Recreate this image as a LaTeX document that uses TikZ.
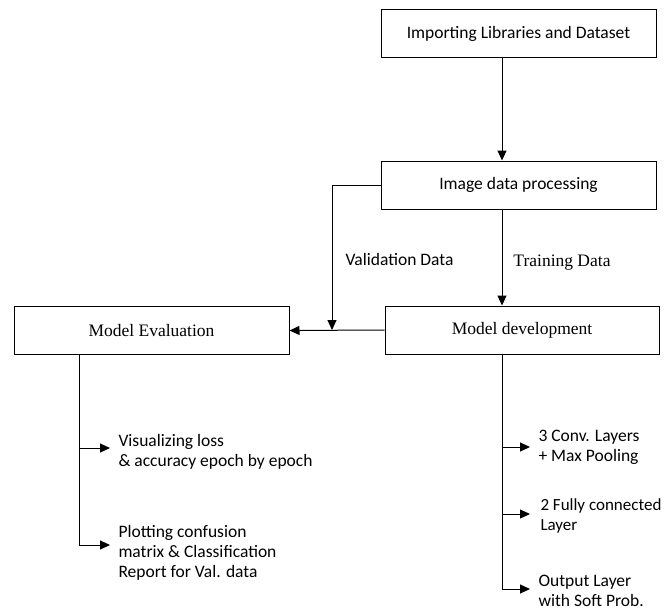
\documentclass[tikz,border=0pt]{standalone}
\usepackage{fontspec}
\setmainfont{Liberation Serif}
\newfontfamily\calibri{Carlito}
\usetikzlibrary{arrows.meta}

\begin{document}
\begin{tikzpicture}[x=1pt,y=-1pt,font=\fontsize{17.5}{21}\selectfont,line width=1pt]
    \tikzstyle{box}=[rectangle,draw,minimum width=275pt,minimum height=48pt,inner sep=0pt]
    \tikzstyle{arrow}=[-{Triangle[length=10pt,width=9pt]}]
    \tikzstyle{item}=[anchor=west,align=left,inner xsep=8pt,inner ysep=0pt,font=\fontsize{17.5}{20}\selectfont\calibri]
    \useasboundingbox (0,0) rectangle (667,610);
    \coordinate (spine) at (502,0);
    \coordinate (evspine) at (79,0);
    \coordinate (valjoin) at (332,330);
    \node [box,font=\fontsize{17.5}{21}\selectfont\calibri] (importing) at (518.5,34) {Importing Libraries and Dataset};
    \node [box,font=\fontsize{17.5}{21}\selectfont\calibri] (processing) at (518.5,185) {Image data processing};
    \node [box] (evaluation) at (151.5,330.5) {Model Evaluation};
    \node [box,minimum width=274pt] (development) at (522,330) {Model development};
    \node [font=\fontsize{17.5}{21}\selectfont\calibri] (vallabel) at (399.5,259) {Validation Data};
    \node (trainlabel) at (562,263) {Training Data};
    \node [item] (visual) at (110,452) {Visualizing loss\\\& accuracy epoch by epoch};
    \node [item] (plotting) at (110,553) {Plotting confusion\\matrix \& Classification\\Report for Val. data};
    \node [item] (conv) at (530,447) {3 Conv. Layers\\+ Max Pooling};
    \node [item,xshift=2pt,font=\fontsize{17}{20}\selectfont\calibri] (dense) at (530,516) {2 Fully connected\\Layer};
    \node [item] (output) at (530,591) {Output Layer\\with Soft Prob.};
    \path ([yshift=4pt]visual.west) coordinate (vistip)
          ([yshift=8pt]plotting.west) coordinate (plottip)
          ([yshift=2pt,xshift=-2pt]dense.west) coordinate (densetip)
          ([yshift=2pt]output.west) coordinate (outtip);
    \draw [arrow] (importing.south -| spine) -- (processing.north -| spine);
    \draw [arrow] (processing.south -| spine) -- (development.north -| spine);
    \draw [arrow] (processing.west) -| (valjoin);
    \draw [arrow] (development.west) -- (evaluation.east);
    \draw [arrow] (evaluation.south -| evspine) |- (plottip);
    \draw [arrow] (evspine |- vistip) -- (vistip);
    \draw [arrow] (development.south -| spine) |- (outtip);
    \draw [arrow] (spine |- conv.west) -- (conv.west);
    \draw [arrow] (spine |- densetip) -- (densetip);
\end{tikzpicture}
\end{document}
